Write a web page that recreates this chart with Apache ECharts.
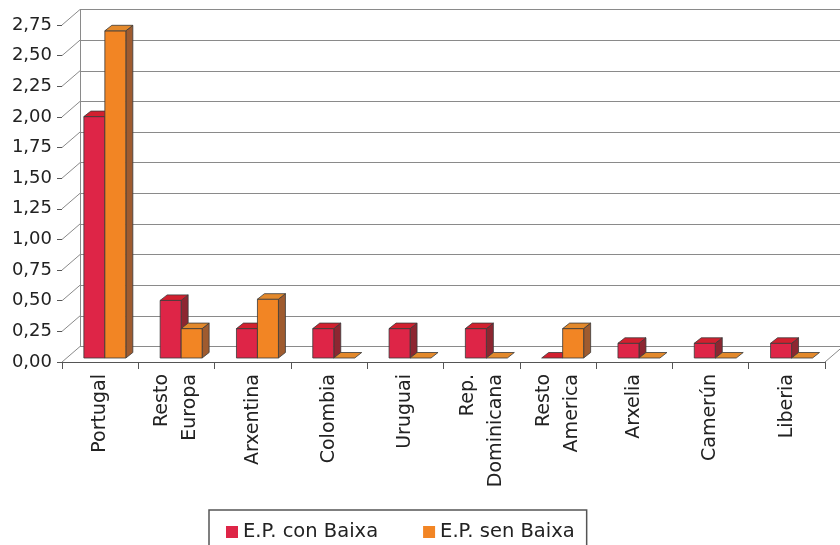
<!DOCTYPE html>
<html>
<head>
<meta charset="utf-8">
<script src="https://cdn.jsdelivr.net/npm/echarts@6/dist/echarts.min.js"></script>
<style>
html,body{margin:0;padding:0;background:#fff;}
#chart{width:840px;height:545px;}
</style>
</head>
<body>
<div id="chart"></div>
<script>
const categories = ['Portugal', 'Resto\nEuropa', 'Arxentina', 'Colombia', 'Uruguai', 'Rep.\nDominicana', 'Resto\nAmerica', 'Arxelia', 'Camerún', 'Liberia'];
const conBaixa = [1.97, 0.47, 0.24, 0.24, 0.24, 0.24, 0, 0.12, 0.12, 0.12];
const senBaixa = [2.67, 0.24, 0.48, 0, 0, 0, 0.24, 0, 0, 0];
const seriesNames = ['E.P. con Baixa', 'E.P. sen Baixa'];
const yTicks = [0, 0.25, 0.5, 0.75, 1, 1.25, 1.5, 1.75, 2, 2.25, 2.5, 2.75];

const FONT = 'DejaVu Sans';
const DEPTH_X = 18, DEPTH_Y = -15.5;   // wall depth
const BAR_SX = 4.7, BAR_SY = -4;       // bar plane shift
const BAR_DX = 7, BAR_DY = -5.5;       // bar depth
const palettes = [
  {front: '#DE2547', top: '#D2202F', side: '#8D2631'},
  {front: '#F28524', top: '#E3892C', side: '#9F5B2F'}
];

function barRender(s) {
  return function (params, api) {
    const i = api.value(0), v = api.value(1);
    const base = api.coord([i, 0]);
    const top = api.coord([i, v]);
    const cw = api.size([1, 0])[0];
    const bw = cw * 0.275;
    const x0 = base[0] + BAR_SX + (s === 0 ? -bw : 0);
    const x1 = x0 + bw;
    const yb = base[1] + BAR_SY;
    const yt = top[1] + BAR_SY;
    const pal = palettes[s];
    const stroke = {stroke: '#3a3a3a', lineWidth: 0.8};
    const children = [];
    if (v > 0) {
      children.push({type: 'polygon', shape: {points: [[x1, yt], [x1 + BAR_DX, yt + BAR_DY], [x1 + BAR_DX, yb + BAR_DY], [x1, yb]]},
        style: Object.assign({fill: pal.side}, stroke)});
      children.push({type: 'rect', shape: {x: x0, y: yt, width: bw, height: yb - yt},
        style: Object.assign({fill: pal.front}, stroke)});
    }
    children.push({type: 'polygon', shape: {points: [[x0, yt], [x1, yt], [x1 + BAR_DX, yt + BAR_DY], [x0 + BAR_DX, yt + BAR_DY]]},
      style: Object.assign({fill: pal.top}, stroke)});
    return {type: 'group', children: children};
  };
}

function wallRender(params, api) {
  const cs = params.coordSys;
  const v = api.value(1);
  const y = api.coord([0, v])[1];
  const children = [{type: 'line', shape: {x1: cs.x, y1: y, x2: cs.x + DEPTH_X, y2: y + DEPTH_Y},
    style: {stroke: '#8a8a8a', lineWidth: 1}}];
  if (v === 0) {
    children.push({type: 'line', shape: {x1: cs.x + cs.width, y1: y, x2: cs.x + cs.width + DEPTH_X, y2: y + DEPTH_Y},
      style: {stroke: '#8a8a8a', lineWidth: 1}});
  }
  return {type: 'group', children: children};
}

const chart = echarts.init(document.getElementById('chart'), null, {renderer: 'canvas'});
chart.setOption({
  animation: false,
  backgroundColor: '#ffffff',
  textStyle: {fontFamily: FONT},
  legend: {
    data: seriesNames,
    left: 209, top: 510,
    padding: [12, 12, 14, 17],
    borderColor: '#555', borderWidth: 1.5,
    itemWidth: 12, itemHeight: 12, itemGap: 45,
    icon: 'rect',
    textStyle: {fontFamily: FONT, fontSize: 19.5, color: '#222'}
  },
  grid: [
    {left: 62, width: 763, top: 25, height: 337},
    {left: 62 + DEPTH_X, width: 763, top: 25 + DEPTH_Y, height: 337}
  ],
  xAxis: [
    {
      type: 'category', gridIndex: 0, data: categories, boundaryGap: true,
      axisLine: {show: true, lineStyle: {color: '#555', width: 1}},
      axisTick: {show: true, length: 7, lineStyle: {color: '#555'}},
      axisLabel: {interval: 0, rotate: 90, margin: 12, fontSize: 19, lineHeight: 28, color: '#222', fontFamily: FONT},
      splitLine: {show: false}
    },
    {
      type: 'category', gridIndex: 1, data: categories, show: false
    }
  ],
  yAxis: [
    {
      type: 'value', gridIndex: 0, min: 0, max: 2.75, interval: 0.25,
      axisLine: {show: false},
      axisTick: {show: true, length: 5, lineStyle: {color: '#555'}},
      axisLabel: {margin: 10, fontSize: 18, color: '#222', fontFamily: FONT, padding: [6, 0, 0, 0],
        formatter: v => v.toFixed(2).replace('.', ',')},
      splitLine: {show: false}
    },
    {
      type: 'value', gridIndex: 1, min: 0, max: 2.75, interval: 0.25,
      axisLine: {show: true, lineStyle: {color: '#8a8a8a', width: 1}},
      axisTick: {show: false},
      axisLabel: {show: false},
      splitLine: {show: true, lineStyle: {color: '#8a8a8a', width: 1}}
    }
  ],
  series: [
    {
      type: 'custom', name: 'wall', xAxisIndex: 0, yAxisIndex: 0, z: 1,
      data: yTicks.map(v => [0, v]), encode: {x: 0, y: 1},
      renderItem: wallRender, silent: true
    },
    {
      type: 'custom', name: seriesNames[0], xAxisIndex: 0, yAxisIndex: 0, z: 3,
      itemStyle: {color: palettes[0].front},
      data: conBaixa.map((v, i) => [i, v]), encode: {x: 0, y: 1},
      renderItem: barRender(0)
    },
    {
      type: 'custom', name: seriesNames[1], xAxisIndex: 0, yAxisIndex: 0, z: 4,
      itemStyle: {color: palettes[1].front},
      data: senBaixa.map((v, i) => [i, v]), encode: {x: 0, y: 1},
      renderItem: barRender(1)
    }
  ]
});
</script>
</body>
</html>
